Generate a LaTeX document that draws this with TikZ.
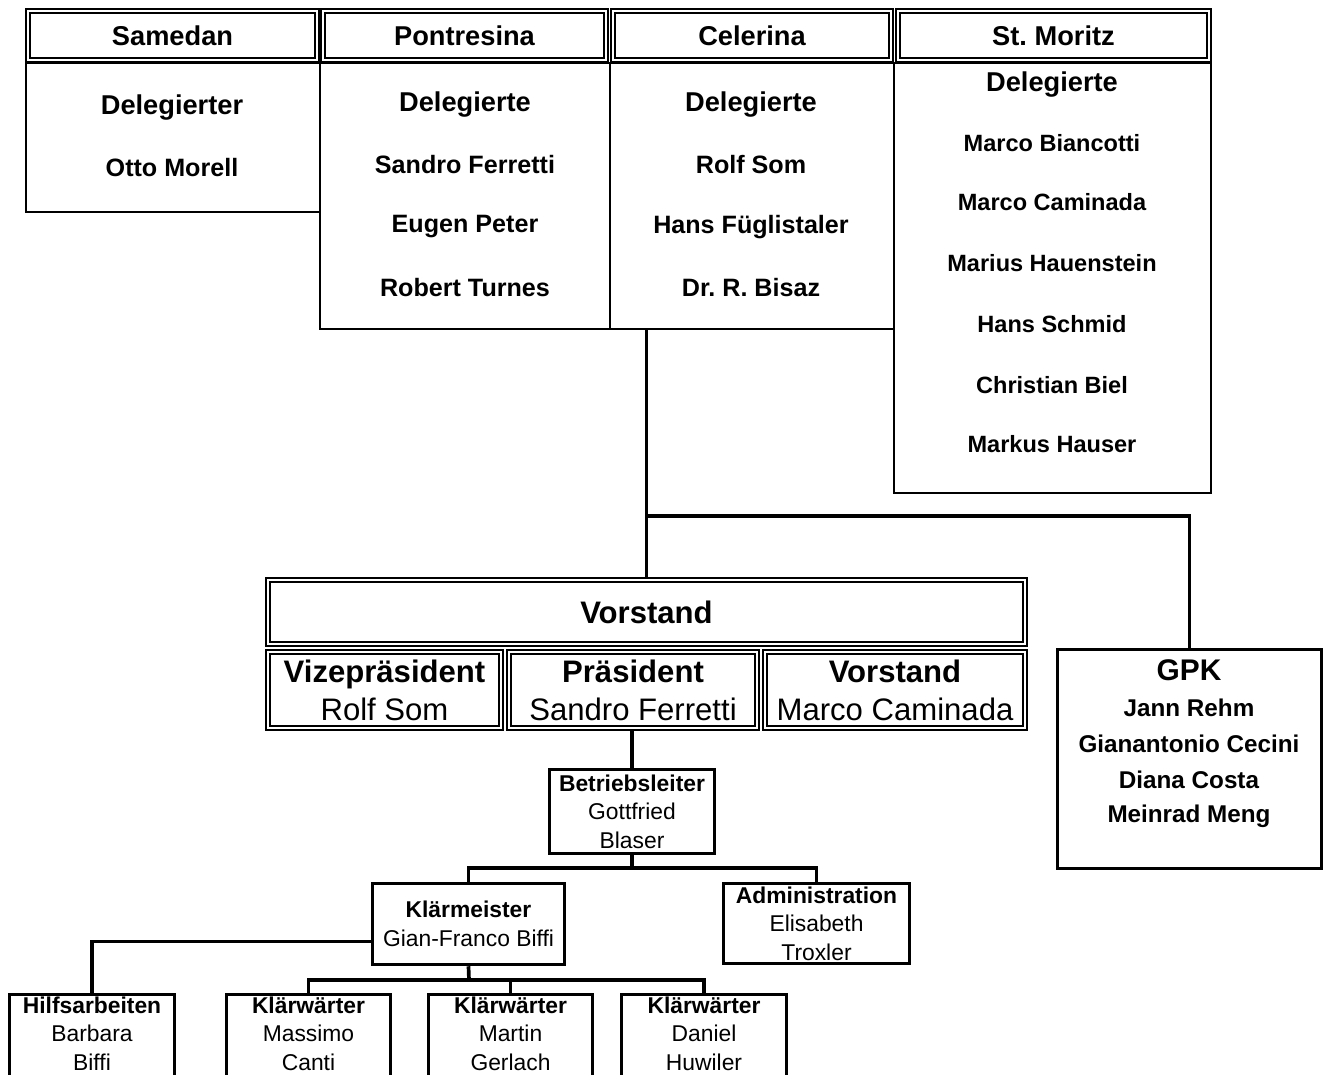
\documentclass[tikz,border=0pt]{standalone}
\usepackage{fontspec}
\setmainfont{Liberation Sans}
\frenchspacing

\begin{document}
\begin{tikzpicture}[x=0.02cm, y=-0.02cm,
  dblbox/.style={draw, double=white, line width=1.2pt, double distance=0.8pt, inner sep=0pt},
  hdr/.style={dblbox, minimum height=0.98cm, font=\fontsize{15.5}{18}\selectfont\bfseries},
  listbox/.style={draw, line width=1.5pt, inner sep=0pt},
  ttl/.style={font=\fontsize{15.5}{18}\selectfont\bfseries},
  nm/.style={font=\fontsize{14.3}{17}\selectfont\bfseries},
  nmsm/.style={font=\fontsize{13.4}{16}\selectfont\bfseries},
  board/.style={dblbox, minimum height=1.52cm, align=center, font=\fontsize{17.7}{21.5}\selectfont},
  staff/.style={draw, line width=2pt, inner sep=0pt, align=center, font=\fontsize{13}{16.2}\selectfont},
  link/.style={line width=2.1pt}]
\clip (0,0) rectangle (1326,1075);

% Gemeinden
\node[hdr, minimum width=5.78cm] (samH) at (172.5,35.5) {Samedan};
\node[hdr, minimum width=5.66cm] (ponH) at (464.5,35.5) {Pontresina};
\node[hdr, minimum width=5.56cm] (celH) at (752,35.5) {Celerina};
\node[hdr, minimum width=6.22cm] (stmH) at (1053.5,35.5) {St. Moritz};

\node[listbox, minimum width=5.88cm, minimum height=2.98cm] (sam) at (173,137.5) {};
\node[listbox, minimum width=5.8cm, minimum height=5.32cm] (pon) at (465,196) {};
\node[listbox, minimum width=5.68cm, minimum height=5.32cm] (cel) at (752,196) {};
\node[listbox, minimum width=6.34cm, minimum height=8.6cm] (stm) at (1052.5,278) {};

% Delegierte
\node[ttl] (samT) at (172,108) {Delegierter};
\node[nm] (sam1) at (172,168) {Otto Morell};

\node[ttl] (ponT) at (465,105) {Delegierte};
\foreach \t/\y [count=\i] in {Sandro Ferretti/165, Eugen Peter/227, Robert Turnes/288}
  \node[nm] (pon\i) at (465,\y) {\t};

\node[ttl] (celT) at (751,105) {Delegierte};
\foreach \t/\y [count=\i] in {Rolf Som/165, Hans Füglistaler/227, Dr. R. Bisaz/288}
  \node[nm] (cel\i) at (751,\y) {\t};

\node[ttl] (stmT) at (1052,85) {Delegierte};
\foreach \t/\y [count=\i] in {Marco Biancotti/143, Marco Caminada/202, Marius Hauenstein/263,
    Hans Schmid/324, Christian Biel/385, Markus Hauser/444}
  \node[nmsm] (stm\i) at (1052,\y) {\t};

% Vorstand
\node[dblbox, minimum width=15.14cm, minimum height=1.28cm, font=\fontsize{17.7}{21.5}\selectfont\bfseries] (vor) at (646.5,612) {Vorstand};
\node[board, minimum width=4.66cm] (vize) at (384.5,690) {\textbf{Vizepräsident}\\Rolf Som};
\node[board, minimum width=4.96cm] (praes) at (633,690) {\textbf{Präsident}\\Sandro Ferretti};
\node[board, minimum width=5.2cm] (vorst) at (895,690) {\textbf{Vorstand}\\Marco Caminada};

% GPK
\node[draw, line width=1.8pt, minimum width=5.28cm, minimum height=4.38cm] (gpk) at (1189.5,759) {};
\node[font=\fontsize{17}{20}\selectfont\bfseries] (gpkT) at (1189,670) {GPK};
\foreach \t/\y [count=\i] in {Jann Rehm/708, Gianantonio Cecini/744, Diana Costa/780, Meinrad Meng/816}
  \node[font=\fontsize{13.8}{16}\selectfont\bfseries] (gpk\i) at (1189,\y) {\t};

% Betrieb
\node[staff, minimum width=3.3cm, minimum height=1.68cm] (bl) at (632,811.5) {\textbf{Betriebsleiter}\\Gottfried\\Blaser};
\node[staff, minimum width=3.84cm, minimum height=1.62cm] (km) at (468.5,924) {\textbf{Klärmeister}\\Gian-Franco Biffi};
\node[staff, minimum width=3.72cm, minimum height=1.6cm] (adm) at (816.5,923.5) {\textbf{Administration}\\Elisabeth\\Troxler};

\node[staff, minimum width=3.3cm, minimum height=1.82cm] (hilf) at (92,1040) {};
\node[staff, minimum width=3.28cm, minimum height=1.82cm] (kw1) at (308.5,1040) {};
\node[staff, minimum width=3.28cm, minimum height=1.82cm] (kw2) at (510.5,1040) {};
\node[staff, minimum width=3.3cm, minimum height=1.82cm] (kw3) at (704,1040) {};
\node[align=center, font=\fontsize{13}{16.2}\selectfont] (hilfT) at (92,1033.5) {\textbf{Hilfsarbeiten}\\Barbara\\Biffi};
\node[align=center, font=\fontsize{13}{16.2}\selectfont] (kw1T) at (308.5,1033.5) {\textbf{Klärwärter}\\Massimo\\Canti};
\node[align=center, font=\fontsize{13}{16.2}\selectfont] (kw2T) at (510.5,1033.5) {\textbf{Klärwärter}\\Martin\\Gerlach};
\node[align=center, font=\fontsize{13}{16.2}\selectfont] (kw3T) at (704,1033.5) {\textbf{Klärwärter}\\Daniel\\Huwiler};

% Verbindungen
\coordinate (hub) at (647,516);
\draw[link] (vor.north |- cel.south) -- (vor.north);
\draw[link] (hub) -| (gpk.north);
\draw[link] (bl.north |- praes.south) -- (bl.north);
\coordinate (blbus) at (632,868);
\draw[link] (bl.south) -- (blbus);
\draw[link] (km.north) |- (blbus) -| (adm.north);
\draw[link] ([yshift=-10pt]km.west) -| (hilf.north);
\coordinate (kmbus) at (469,980);
\draw[link] (km.south) -- (kmbus);
\draw[link] (kw1.north) |- (kmbus) -| (kw3.north);
\draw[link] (kw2.north) -- (kw2.north |- kmbus);
\end{tikzpicture}
\end{document}
